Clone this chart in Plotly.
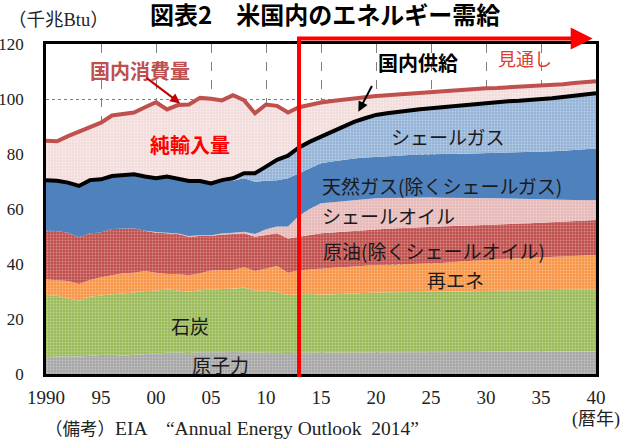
import numpy as np
import plotly.graph_objects as go

years = list(range(1990, 2041))

nuclear = [6.2,6.4,6.5,6.4,6.7,6.9,7.0,6.6,7.0,7.3,
           7.6,7.7,7.8,7.6,7.9,7.8,7.9,8.0,7.9,7.9,
           7.9,7.8,7.6,7.7,7.8,7.8,7.8,7.8,7.8,7.8,
           7.9,7.9,7.9,7.9,8.0,8.0,8.0,8.0,8.0,8.0,
           8.1,8.1,8.1,8.1,8.1,8.1,8.1,8.1,8.2,8.2,8.2]
coal = [22.5,22.1,21.0,20.3,21.4,21.7,22.0,22.7,22.6,22.9,
        22.7,23.1,22.5,22.3,22.6,23.0,23.0,23.0,23.6,22.4,
        22.4,22.1,21.1,21.3,21.4,21.0,21.2,21.5,21.6,21.7,
        21.7,21.8,21.8,21.9,21.8,21.9,21.9,22.0,22.0,22.1,
        22.1,22.2,22.3,22.3,22.4,22.4,22.5,22.5,22.5,22.5,22.6]
renewables = [5.7,5.7,6.3,6.0,6.1,6.6,7.0,7.3,7.2,7.3,
              6.5,5.6,6.1,6.0,6.1,6.8,6.9,6.8,7.3,7.2,
              8.1,9.4,8.1,8.7,8.8,9.6,9.6,9.5,9.7,9.9,
              10.0,10.0,10.1,10.1,10.2,10.3,10.5,10.7,11.0,11.1,
              11.3,11.4,11.5,11.7,11.8,11.9,12.0,12.2,12.3,12.4,12.5]
crude_oil = [17.7,17.8,17.6,17.0,17.0,16.3,16.7,16.2,16.2,14.6,
             14.6,14.8,14.5,14.0,13.6,12.6,12.9,13.1,12.4,12.4,
             12.1,11.9,12.5,12.2,12.6,12.8,12.9,13.0,13.0,13.0,
             13.0,13.1,13.2,13.3,13.4,13.4,13.3,13.1,12.9,12.9,
             12.7,12.7,12.6,12.6,12.5,12.6,12.6,12.6,12.6,12.7,12.7]
shale_oil = [0,0,0,0,0,0,0,0,0,0,
             0.2,0.2,0.2,0.3,0.3,0.3,0.4,0.5,0.5,1.0,
             2.1,2.4,4.3,7.6,9.5,10.9,11.0,11.1,11.2,11.3,
             11.3,11.2,11.1,11.0,10.8,10.6,10.4,10.3,10.2,9.9,
             9.7,9.5,9.3,9.0,8.8,8.5,8.2,7.9,7.6,7.4,7.3]
natural_gas = [18.4,18.3,18.2,18.7,19.3,19.3,19.3,19.4,19.6,19.7,
               19.6,20.4,19.8,20.0,19.7,18.5,18.9,18.9,19.5,19.0,
               17.7,16.9,17.6,15.5,14.9,14.5,14.8,15.0,15.1,15.0,
               15.1,15.2,15.3,15.4,15.6,15.7,15.9,15.9,16.0,16.1,
               16.3,16.4,16.6,16.8,17.1,17.3,17.6,17.9,18.3,18.5,18.7]
shale_gas = [0,0,0,0,0,0,0,0,0,0,
             0,0,0,0,0,0.3,0.5,0.9,1.8,3.1,
             5.1,7.4,8.2,9.4,9.5,9.7,10.9,12.1,13.3,14.3,
             15.2,15.6,16.0,16.3,16.5,16.7,17.0,17.4,17.7,18.2,
             18.5,18.6,18.8,18.9,18.9,19.1,19.3,19.5,19.6,19.9,20.1]
consumption = [84.8,84.6,86.5,88.1,89.7,91.4,94.0,94.5,95.1,97.0,
               98.8,96.2,97.8,98.0,100.4,100.1,99.5,101.4,99.6,94.8,
               98.0,97.5,95.1,97.0,97.9,98.7,99.3,99.8,100.3,100.7,
               101.1,101.4,101.7,102.0,102.4,102.7,102.9,103.2,103.4,103.7,
               103.9,104.0,104.2,104.4,104.5,104.7,105.0,105.4,105.8,106.2,106.5]

forecast_start = 2013
tick_years = [1990, 1995, 2000, 2005, 2010, 2015, 2020, 2025, 2030, 2035, 2040]
tick_text = ["1990", "95", "00", "05", "10", "15", "20", "25", "30", "35", "40"]

supply = np.round(np.sum([nuclear, coal, renewables, crude_oil, shale_oil,
                          natural_gas, shale_gas], axis=0), 2)

SERIF = "Liberation Serif, Noto Sans CJK JP, serif"
CJK = "Noto Sans CJK JP, sans-serif"


def pat(bg, op=0.35):
    return dict(shape=".", bgcolor=bg, fgcolor="white", fgopacity=op, size=3, solidity=0.3)


fig = go.Figure()
layers = [
    ("原子力", nuclear, "#A6A6A6", True),
    ("石炭", coal, "#9BBB59", True),
    ("再エネ", renewables, "#F79646", True),
    ("原油", crude_oil, "#C0504D", True),
    ("シェールオイル", shale_oil, "#E6B9B8", True),
    ("天然ガス", natural_gas, "#4F81BD", False),
    ("シェールガス", shale_gas, "#95B3D7", True),
]
for name, vals, col, usepat in layers:
    kw = dict(fillpattern=pat(col)) if usepat else {}
    fig.add_trace(go.Scatter(x=years, y=vals, name=name, mode="lines",
                             stackgroup="supply", line=dict(width=0, color=col),
                             fillcolor=col, **kw))

fig.add_trace(go.Scatter(x=years, y=supply, name="国内供給", mode="lines",
                         line=dict(color="black", width=4)))
fig.add_trace(go.Scatter(x=years, y=consumption, name="国内消費量", mode="lines",
                         line=dict(color="#C0504D", width=4), fill="tonexty",
                         fillcolor="#F2DCDB", fillpattern=pat("#F2DCDB", 0.5)))

fig.update_layout(
    width=636, height=439, margin=dict(l=46, r=40, t=44, b=65, autoexpand=False),
    paper_bgcolor="white", plot_bgcolor="white", showlegend=False,
    font=dict(family=SERIF, size=19, color="black"),
)
fig.update_xaxes(range=[1990, 2040], tickvals=tick_years, ticktext=tick_text,
                 showline=True, mirror=True, linecolor="black", linewidth=2.5,
                 showgrid=True, gridcolor="#7F7F7F", griddash="dash", gridwidth=1,
                 ticks="", ticklabelstandoff=4, zeroline=False, automargin=False,
                 tickfont=dict(family=SERIF, size=19, color="#222"))
fig.update_yaxes(range=[0, 120], tickvals=[0, 20, 40, 60, 80, 100, 120],
                 showline=True, mirror=True, linecolor="black", linewidth=2.5,
                 showgrid=True, gridcolor="#7F7F7F", griddash="dot", gridwidth=1,
                 ticks="", ticklabelstandoff=16, zeroline=False, automargin=False,
                 tickfont=dict(family=SERIF, size=17, color="#222"))

# forecast marker
fig.add_shape(type="line", xref="x", yref="paper", x0=forecast_start, x1=forecast_start,
              y0=-0.009, y1=1.0227, line=dict(color="#FF0000", width=4), layer="above")
fig.add_annotation(xref="x", yref="paper", x=2039.7, y=1.0167, text="",
                   showarrow=True, axref="x", ayref="pixel", ax=forecast_start, ay=0,
                   arrowhead=2, arrowsize=1.1, arrowwidth=4, arrowcolor="#FF0000")

# titles & notes
fig.add_annotation(xref="paper", yref="paper", x=0.507, y=1.092, showarrow=False,
                   xanchor="center", yanchor="middle",
                   text="<b>図表2　米国内のエネルギー需給</b>",
                   font=dict(family=CJK, size=24, color="black"))
fig.add_annotation(xref="paper", yref="paper", x=0.022, y=1.073, showarrow=False,
                   xanchor="center", yanchor="middle",
                   text="（千兆Btu）", font=dict(family=SERIF, size=18.5, color="#222"))
fig.add_annotation(xref="paper", yref="paper", x=1.0, y=-0.139, showarrow=False,
                   xanchor="center", yanchor="middle",
                   text="(暦年)", font=dict(family=SERIF, size=18, color="#222"))
fig.add_annotation(xref="paper", yref="paper", x=-0.005, y=-0.165, showarrow=False,
                   xanchor="left", yanchor="middle",
                   text="（備考）<span style='font-size:19.5px'>EIA　“Annual Energy Outlook  2014”</span>",
                   font=dict(family=SERIF, size=17.5, color="#222"))

# callouts
fig.add_annotation(x=1998.5, y=110.5, showarrow=False, text="<b>国内消費量</b>",
                   font=dict(family=CJK, size=20, color="#C0504D"))
fig.add_annotation(x=2002.2, y=98.4, ax=1999.0, ay=108.1, axref="x", ayref="y",
                   text="", showarrow=True, arrowhead=2, arrowwidth=2, arrowsize=1,
                   arrowcolor="#C00000")
fig.add_annotation(x=2003.1, y=83.5, showarrow=False, text="<b>純輸入量</b>",
                   font=dict(family=CJK, size=20, color="#FF0000"))
fig.add_annotation(x=2023.8, y=113.2, showarrow=False, text="<b>国内供給</b>",
                   font=dict(family=CJK, size=20, color="black"))
fig.add_annotation(x=2018.4, y=95.4, ax=2019.7, ay=105.3, axref="x", ayref="y",
                   text="", showarrow=True, arrowhead=2, arrowwidth=2, arrowsize=1,
                   arrowcolor="black")
fig.add_annotation(x=2033.5, y=114.9, showarrow=False, text="見通し",
                   font=dict(family=CJK, size=18, color="#E03C31"))

labels = [
    ("シェールガス", 2026.5, 86.2),
    ("天然ガス(除くシェールガス)", 2026.0, 68.7),
    ("シェールオイル", 2021.1, 57.8),
    ("原油(除くシェールオイル)", 2025.3, 44.8),
    ("再エネ", 2027.2, 34.5),
    ("石炭", 2003.1, 17.8),
    ("原子力", 2005.9, 3.6),
]
for txt, lx, ly in labels:
    fig.add_annotation(x=lx, y=ly, showarrow=False, text=txt,
                       font=dict(family=CJK, size=19, color="#1A1A1A"))

fig.write_html("out.html")
